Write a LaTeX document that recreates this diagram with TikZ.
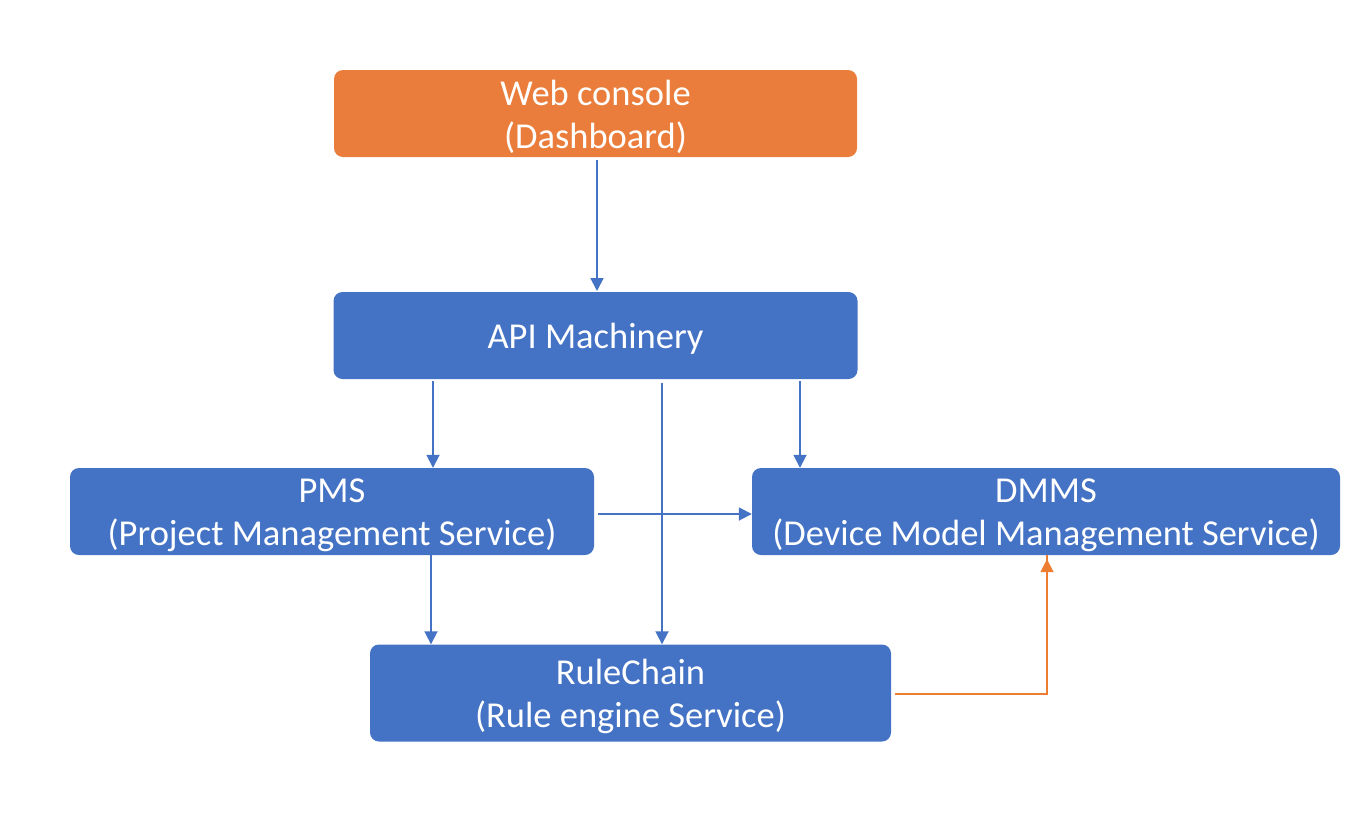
\documentclass[tikz,border=0pt]{standalone}
\usepackage{fontspec}
\setmainfont{Carlito}
\usetikzlibrary{arrows.meta}
\definecolor{obox}{HTML}{EA7D3B}
\definecolor{bbox}{HTML}{4472C4}
\definecolor{oline}{HTML}{ED7D31}
\tikzset{
  box/.style={fill=bbox, draw=none, rounded corners=9pt, inner sep=0pt,
    label={[text=white, align=center, font=\fontsize{36.5}{43}\selectfont, yshift=-3.5pt, inner sep=0pt]center:#1}},
  conn/.style={draw=bbox, line width=1.8pt, -{Triangle[length=13pt,width=13pt]}},
  oconn/.style={draw=oline, line width=1.8pt, -{Triangle[length=13pt,width=13pt]}},
}
\begin{document}
\begin{tikzpicture}[x=1pt,y=-1pt]
\useasboundingbox (0,0) rectangle (1362,836);
\node[box={Web console\\(Dashboard)}, fill=obox, minimum width=523pt, minimum height=87pt] (web) at (595.5,113.5) {};
\node[box={API Machinery}, minimum width=524pt, minimum height=87pt] (api) at (595.5,335.5) {};
\node[box={PMS\\(Project Management Service)}, minimum width=524pt, minimum height=87pt] (pms) at (332,511.5) {};
\node[box={DMMS\\(Device Model Management Service)}, minimum width=588pt, minimum height=87pt] (dmms) at (1046,511.5) {};
\node[box={RuleChain\\(Rule engine Service)}, minimum width=521pt, minimum height=97pt] (rc) at (630.5,693) {};

\coordinate (a1) at (597,160);
\coordinate (a2) at (597,291);
\draw[conn] (a1) -- (a2);
\draw[conn] (api.south -| 433,0) ++(0,2) -- (pms.north -| 433,0);
\draw[conn] (api.south -| 800,0) ++(0,2) -- (dmms.north -| 800,0);
\draw[conn] (662,383) -- (rc.north -| 662,0);
\draw[conn] (pms.south -| 431,0) -- (rc.north -| 431,0);
\draw[conn] (pms.east |- 0,514) ++(4,0) -- (dmms.west |- 0,514);
\draw[oconn] (rc.east |- 0,694) ++(4,0) -| (dmms.south -| 1047,0) ++(0,4);
\end{tikzpicture}
\end{document}
